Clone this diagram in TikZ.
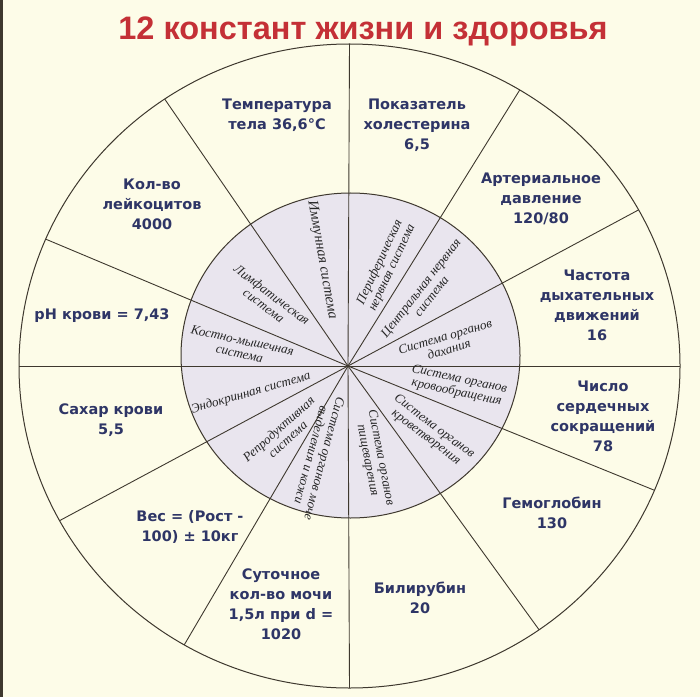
\documentclass[tikz,border=0pt]{standalone}
\usepackage{fontspec}
\setmainfont{DejaVu Sans}
\newfontfamily\titlefont{Liberation Sans}
\newfontfamily\organfont{Liberation Serif}
\definecolor{paper}{RGB}{253,252,232}
\definecolor{lilac}{RGB}{233,229,238}
\definecolor{ink}{RGB}{62,56,46}
\definecolor{navy}{RGB}{46,53,102}
\definecolor{titlered}{RGB}{196,48,54}

\tikzset{
  const/.style={align=center, text=navy, font=\bfseries\fontsize{14.5}{20}\selectfont},
  organ/.style={align=center, text=black!85, font=\organfont\itshape\fontsize{13}{13.5}\selectfont},
}

\begin{document}
\begin{tikzpicture}[x=1pt,y=1pt]
  \useasboundingbox (0,0) rectangle (700,697);

  % Background and left frame edge
  \fill[paper] (0,0) rectangle (700,697);
  \fill[ink] (0,0) rectangle (2.5,697);

  % Inner disc of body systems
  \fill[lilac] (350.5,341.5) ellipse [x radius=169.5, y radius=162.5];

  % Spokes
  \coordinate (hub) at (348,331);
  \foreach \a in {90,59,29,0,-22.7,-55,-90,-120,-151.3,180,156.8,124}
    \draw[ink, line width=0.9pt] (hub) -- ([shift={(\a:330.5 and 322)}]349.5,331);

  % Outer and inner rings
  \draw[ink, line width=1pt] (349.5,331) ellipse [x radius=330.5, y radius=322];
  \draw[ink, line width=1pt] (350.5,341.5) ellipse [x radius=169.5, y radius=162.5];

  % Title
  \node[font=\titlefont\bfseries\fontsize{32.5}{32.5}\selectfont, text=titlered, anchor=base]
    (title) at (363,657) {12 констант жизни и здоровья};

  % Constants (outer ring)
  \node[const] (temp)   at (277,582) {Температура\\тела 36,6°C};
  \node[const] (chol)   at (417,572) {Показатель\\холестерина\\6,5};
  \node[const] (press)  at (541,498) {Артериальное\\давление\\120/80};
  \node[const] (breath) at (597,392) {Частота\\дыхательных\\движений\\16};
  \node[const] (pulse)  at (603,281) {Число\\сердечных\\сокращений\\78};
  \node[const] (hemo)   at (552,184) {Гемоглобин\\130};
  \node[const] (bili)   at (420,99)  {Билирубин\\20};
  \node[const] (urine)  at (281,93)  {Суточное\\кол-во мочи\\1,5л при d =\\1020};
  \node[const] (weight) at (190,170) {Вес = (Рост -\\100) ± 10кг};
  \node[const] (sugar)  at (111,277) {Сахар крови\\5,5};
  \node[const] (ph)     at (102,381) {pH крови = 7,43};
  \node[const] (leuk)   at (152,493) {Кол-во\\лейкоцитов\\4000};

  % Body systems (inner disc)
  \node[organ, rotate=-80, font=\organfont\itshape\fontsize{14.5}{14.5}\selectfont]
    (immune) at (322,437) {Иммунная система};
  \node[organ, rotate=-37]  (lymph)  at (268,397) {Лимфатическая\\система};
  \node[organ, rotate=-12]  (bone)   at (241,350) {Костно-мышечная\\система};
  \node[organ, rotate=16]   (endo)   at (251,304) {Эндокринная система};
  \node[organ, rotate=42]   (repro)  at (283,263) {Репродуктивная\\система};
  \node[organ, rotate=-105] (excr)   at (318,240) {Система органов моче\\выделения и кожи};
  \node[organ, rotate=-79]  (digest) at (374,238) {Система органов\\пищеварения};
  \node[organ, rotate=-37]  (marrow) at (430,265) {Система органов\\кроветворения};
  \node[organ, rotate=-12]  (circ)   at (458,311) {Система органов\\кровообращения};
  \node[organ, rotate=16.6] (resp)   at (447,354) {Система органов\\дахания};
  \node[organ, rotate=52]   (cns)    at (426,405) {Центральная нервная\\система};
  \node[organ, rotate=65]   (pns)    at (386,432) {Периферическая\\нервная система};
\end{tikzpicture}
\end{document}
